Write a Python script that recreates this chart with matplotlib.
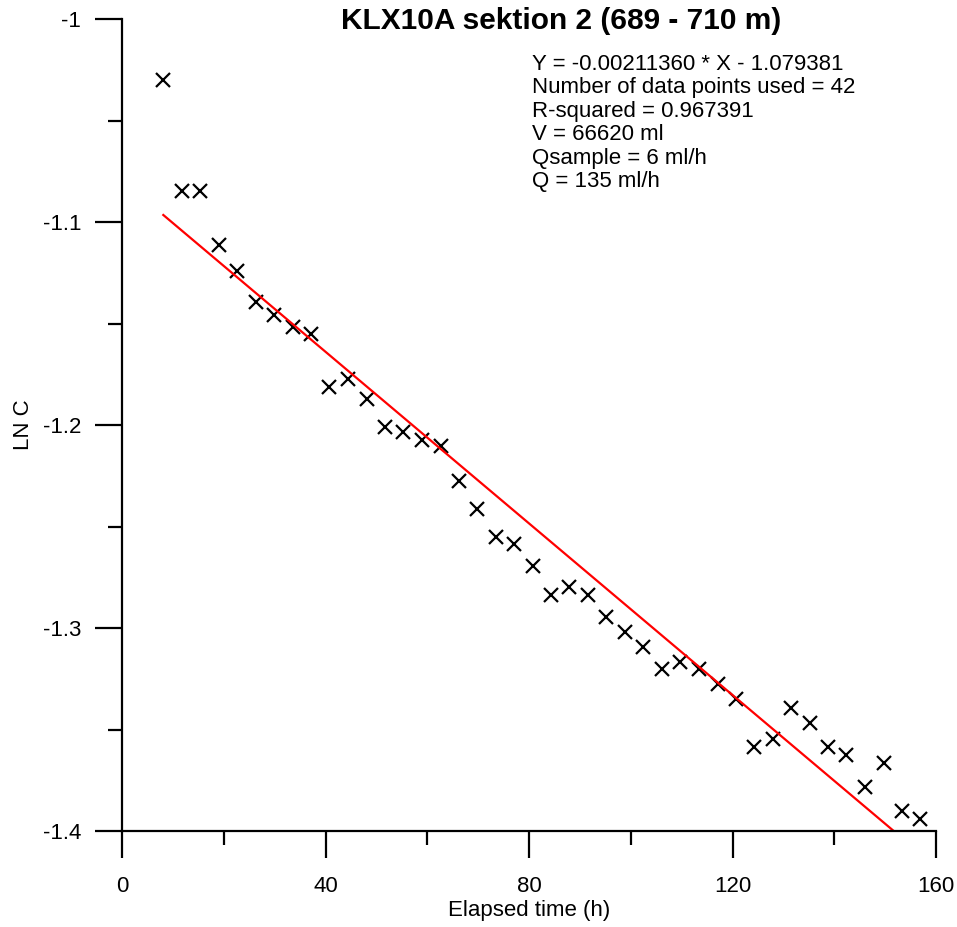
import matplotlib
matplotlib.use('Agg')
import matplotlib.pyplot as plt

plt.rcParams['font.family'] = ['Liberation Sans', 'DejaVu Sans']

# measured points (elapsed time in h, ln of concentration)
elapsed_h = [8.12, 11.74, 15.34, 19.08, 22.62, 26.29, 29.95, 33.57, 37.11, 40.77,
             44.39, 48.12, 51.72, 55.32, 58.94, 62.67, 66.27, 69.87, 73.55, 77.09,
             80.77, 84.37, 87.96, 91.58, 95.18, 98.78, 102.40, 106.14, 109.60, 113.47,
             117.07, 120.75, 124.29, 127.96, 131.56, 135.16, 138.78, 142.38, 146.12, 149.71,
             153.33, 156.93]
ln_c = [-1.0300, -1.0847, -1.0847, -1.1115, -1.1240, -1.1393, -1.1457, -1.1516, -1.1552, -1.1811,
        -1.1775, -1.1873, -1.2008, -1.2036, -1.2074, -1.2103, -1.2276, -1.2414, -1.2550, -1.2588,
        -1.2693, -1.2837, -1.2800, -1.2837, -1.2947, -1.3020, -1.3095, -1.3203, -1.3166, -1.3202,
        -1.3276, -1.3351, -1.3585, -1.3545, -1.3392, -1.3470, -1.3585, -1.3626, -1.3782, -1.3663,
        -1.3901, -1.3941]

# regression
slope = -0.00211360
intercept = -1.079381

info_lines = ['Y = -0.00211360 * X - 1.079381',
              'Number of data points used = 42',
              'R-squared = 0.967391',
              'V = 66620 ml',
              'Qsample = 6 ml/h',
              'Q = 135 ml/h']

x_ticks = [0, 40, 80, 120, 160]
x_minor = [20, 60, 100, 140]
y_ticks = [-1.0, -1.1, -1.2, -1.3, -1.4]
y_ticklabels = ['-1', '-1.1', '-1.2', '-1.3', '-1.4']
y_minor = [-1.05, -1.15, -1.25, -1.35]

fig = plt.figure(figsize=(9.57, 9.27), dpi=100)
ax = fig.add_axes([122 / 957, 1 - 831 / 927, (936 - 122) / 957, (831 - 19) / 927])

ax.plot(elapsed_h, ln_c, 'x', color='black', ms=10, mew=1.6, clip_on=False)

fit_x = [elapsed_h[0], elapsed_h[-1]]
fit_y = [slope * x + intercept for x in fit_x]
ax.plot(fit_x, fit_y, color='red', lw=1.6)

ax.set_xlim(0, 160)
ax.set_ylim(-1.4, -1.0)
ax.set_xticks(x_ticks)
ax.set_xticklabels([str(t) for t in x_ticks])
ax.set_xticks(x_minor, minor=True)
ax.set_yticks(y_ticks)
ax.set_yticklabels(y_ticklabels)
ax.set_yticks(y_minor, minor=True)

for s in ['top', 'right']:
    ax.spines[s].set_visible(False)
for s in ['left', 'bottom']:
    ax.spines[s].set_linewidth(1.6)

ax.tick_params(which='major', direction='out', length=19.5, width=1.6, labelsize=16, pad=10)
ax.tick_params(axis='x', which='major', pad=13)
ax.tick_params(which='minor', direction='out', length=10, width=1.6)

ax.set_xlabel('Elapsed time (h)', fontsize=16, labelpad=2)
ax.set_ylabel('LN C', fontsize=16, labelpad=6)

fig.text(561 / 957, 1 - 29 / 927, 'KLX10A sektion 2 (689 - 710 m)', fontsize=21.5,
         fontweight='bold', ha='center', va='baseline')

for i, line in enumerate(info_lines):
    fig.text(532 / 957, 1 - (70 + i * 23.5) / 927, line, fontsize=16, va='baseline')

fig.savefig('out.png', dpi=100)
